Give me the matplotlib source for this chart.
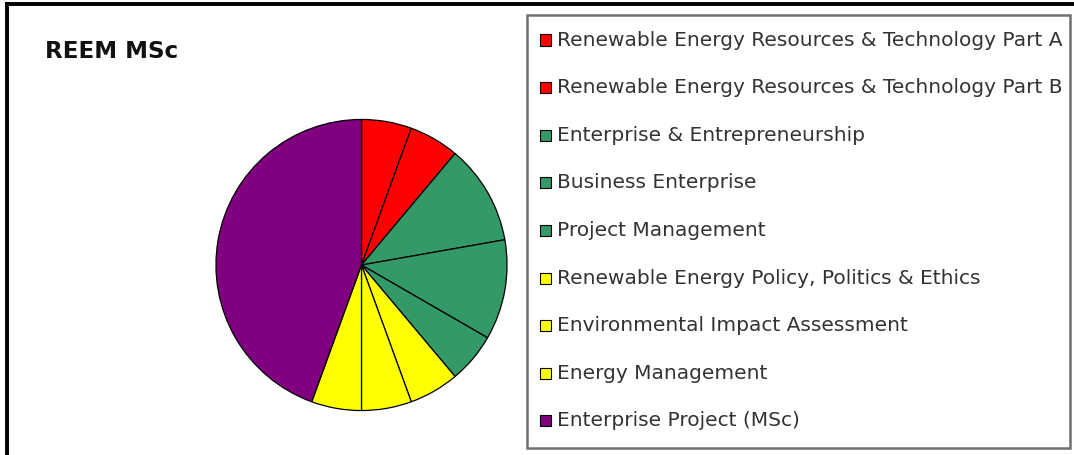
import matplotlib
matplotlib.use("Agg")
import matplotlib.pyplot as plt
from matplotlib.patches import Rectangle
from matplotlib.lines import Line2D

# module credits for the REEM MSc
modules = [
    "Renewable Energy Resources & Technology Part A",
    "Renewable Energy Resources & Technology Part B",
    "Enterprise & Entrepreneurship",
    "Business Enterprise",
    "Project Management",
    "Renewable Energy Policy, Politics & Ethics",
    "Environmental Impact Assessment",
    "Energy Management",
    "Enterprise Project (MSc)",
]
credits = [10, 10, 20, 20, 10, 10, 10, 10, 80]
colors = ["#FF0000", "#FF0000", "#339966", "#339966", "#339966",
          "#FFFF00", "#FFFF00", "#FFFF00", "#800080"]

W, H = 1074, 455
fig = plt.figure(figsize=(W / 100, H / 100), dpi=100)
plt.rcParams['font.family'] = ['DejaVu Sans']

# pie axes placed in pixel units
cx, cy, r = 361.5, 265, 147
ax = fig.add_axes([(cx - r) / W, (H - cy - r) / H, 2 * r / W, 2 * r / H])
ax.pie(credits, colors=colors, startangle=90, counterclock=False, radius=1,
       wedgeprops=dict(edgecolor="black", linewidth=0.9))
ax.set_xlim(-1.01, 1.01)
ax.set_ylim(-1.01, 1.01)
ax.set_aspect("equal")
ax.axis("off")

# outer chart border (left and top visible)
fig.add_artist(Line2D([7 / W, 7 / W], [0, 1 - 4 / H], color="black", lw=2.8,
                      transform=fig.transFigure))
fig.add_artist(Line2D([7 / W, 1], [1 - 4 / H, 1 - 4 / H], color="black", lw=2.8,
                      transform=fig.transFigure))

fig.text(45 / W, 1 - 52 / H, "REEM MSc", fontsize=16.6, fontweight="bold",
         va="center", ha="left", color="#111111")

# legend box
lx0, ly0, lx1, ly1 = 527, 15, 1070, 448
fig.add_artist(Rectangle((lx0 / W, 1 - ly1 / H), (lx1 - lx0) / W, (ly1 - ly0) / H,
                         transform=fig.transFigure, facecolor="white",
                         edgecolor="#707070", lw=1.8))
row0, step = 40, 47.6
for i, (name, c) in enumerate(zip(modules, colors)):
    y = row0 + i * step
    fig.add_artist(Rectangle((540 / W, 1 - (y + 5.5) / H), 11 / W, 11 / H,
                             transform=fig.transFigure, facecolor=c,
                             edgecolor="black", lw=0.8))
    fig.text(557 / W, 1 - y / H, name, fontsize=14.5, va="center", ha="left",
             color="#333333")

fig.savefig("out.png", dpi=100)
